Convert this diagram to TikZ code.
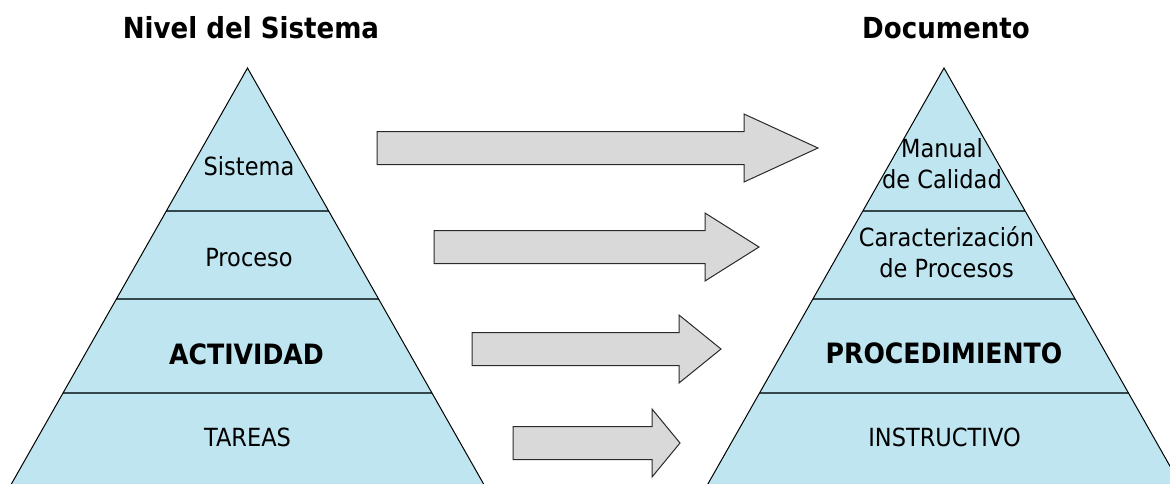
\documentclass[tikz,border=0pt]{standalone}
\usepackage{fontspec}
\setmainfont{DejaVu Sans}[FakeStretch=0.9]
\begin{document}
\begin{tikzpicture}[x=1pt,y=-1pt,
  layerfill/.style={fill=pyrblue},
  edge/.style={draw=black,line width=1pt,line join=miter},
  divider/.style={draw=divline,line width=2pt},
  blockarrow/.style={fill=arrgray,draw=arrline,line width=1pt,line join=miter},
  lbl/.style={font=\fontsize{25}{31}\selectfont,anchor=base,inner sep=0pt,align=center},
  biglbl/.style={font=\bfseries\fontsize{28}{32}\selectfont,anchor=base,inner sep=0pt},
  title/.style={font=\bfseries\fontsize{29}{33}\selectfont,anchor=base,inner sep=0pt}]
\definecolor{pyrblue}{HTML}{BFE6F0}
\definecolor{divline}{HTML}{33474C}
\definecolor{arrgray}{HTML}{D9D9D9}
\definecolor{arrline}{HTML}{2A2A2A}

\useasboundingbox (0,0) rectangle (1170,483);
\clip (0,0) rectangle (1170,483);

% pyramid corners (bases lie below the visible area)
\coordinate (lA) at (247.5,68);
\coordinate (lL) at (247.5-246.9,503);
\coordinate (lR) at (247.5+246.9,503);
\coordinate (rA) at (944,68);
\coordinate (rL) at (944-246.9,503);
\coordinate (rR) at (944+246.9,503);

% left pyramid
\fill[layerfill] (lA) -- (lL) -- (lR) -- cycle;
\begin{scope}
  \clip (lA) -- (lL) -- (lR) -- cycle;
  \foreach \yy in {211,299,393} \draw[divider] (0,\yy) -- (600,\yy);
\end{scope}
\draw[edge] (lL) -- (lA) -- (lR);

% right pyramid
\fill[layerfill] (rA) -- (rL) -- (rR) -- cycle;
\begin{scope}
  \clip (rA) -- (rL) -- (rR) -- cycle;
  \foreach \yy in {211,299,393} \draw[divider] (600,\yy) -- (1200,\yy);
\end{scope}
\draw[edge] (rL) -- (rA) -- (rR);

% block arrows: left end, head base, tip, centre line
\newcommand{\blockarr}[4]{%
  \draw[blockarrow] (#1,#4-16.5) -- (#2,#4-16.5) -- (#2,#4-34) -- (#3,#4)
    -- (#2,#4+34) -- (#2,#4+16.5) -- (#1,#4+16.5) -- cycle;}
\blockarr{377}{744}{818}{148}
\blockarr{434}{705}{759}{247}
\blockarr{472}{679}{721}{349}
\blockarr{513}{652}{680}{443}

% titles
\node[title] (tleft) at (251,38) {Nivel del Sistema};
\node[title] (tright) at (946,38) {Documento};

% left pyramid labels
\node[lbl] (sistema) at (249,175) {Sistema};
\node[lbl] (proceso) at (249,266) {Proceso};
\node[biglbl] (actividad) at (246.5,364) {ACTIVIDAD};
\node[lbl] (tareas) at (247.5,446) {TAREAS};

% right pyramid labels (base anchor sits on the last line)
\node[lbl] (manual) at (942,188) {Manual\\de Calidad};
\node[lbl] (caract) at (946.5,277) {Caracterización\\de Procesos};
\node[biglbl] (proced) at (944,363) {PROCEDIMIENTO};
\node[lbl] (instr) at (944.5,446) {INSTRUCTIVO};
\end{tikzpicture}
\end{document}
